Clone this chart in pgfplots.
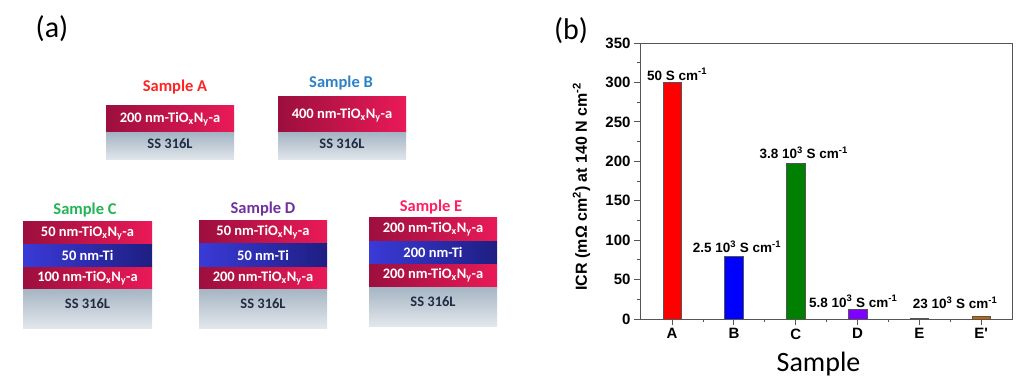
\documentclass[border=0pt]{standalone}
\usepackage{pgfplots}
\pgfplotsset{compat=1.18}
\usepackage{fontspec}
\setmainfont{Liberation Sans}
\newfontfamily\calfont{Carlito}
\definecolor{tL}{HTML}{9C0F3E}
\definecolor{tR}{HTML}{E91A57}
\definecolor{tiL}{HTML}{3A3AD8}
\definecolor{tiR}{HTML}{1E1E82}
\definecolor{ssT}{HTML}{A6B5C4}
\definecolor{ssB}{HTML}{E2E7EC}
\definecolor{ssText}{HTML}{1F2D44}
\definecolor{labA}{HTML}{FF2424}
\definecolor{labB}{HTML}{2C82C9}
\definecolor{labC}{HTML}{22B455}
\definecolor{labD}{HTML}{7030A0}
\definecolor{labE}{HTML}{FF2062}
\definecolor{axc}{HTML}{555555}
\definecolor{barE}{HTML}{8B1A3A}
\definecolor{barEp}{HTML}{C86400}
\newcommand{\tion}[1]{#1 nm-TiO\textsubscript{x}N\textsubscript{y}-a}
\newcommand{\lfont}{\calfont\bfseries\fontsize{14.5}{15}\selectfont}
\newcommand{\tlayer}[5]{\shade[left color=tL,right color=tR] (#1pt,-#3pt) rectangle (#2pt,-#4pt);
  \node[text=white,font=\lfont] at ({(#1+#2)/2*1pt},{-(#3+#4)/2*1pt}) {#5};}
\newcommand{\ilayer}[5]{\shade[left color=tiL,right color=tiR] (#1pt,-#3pt) rectangle (#2pt,-#4pt);
  \node[text=white,font=\lfont] at ({(#1+#2)/2*1pt},{-(#3+#4)/2*1pt}) {#5};}
\newcommand{\slayer}[4]{\shade[top color=ssT,bottom color=ssB] (#1pt,-#3pt) rectangle (#2pt,-#4pt);
  \node[text=ssText,font=\lfont] at ({(#1+#2)/2*1pt},{-(#3*0.62+#4*0.38)*1pt}) {SS 316L};}
\newcommand{\slabel}[4]{\node[text=#4,font=\calfont\bfseries\fontsize{16.5}{17}\selectfont] at (#1pt,-#2pt) {#3};}
\begin{document}
\begin{tikzpicture}
\useasboundingbox (0,0) rectangle (1024pt,-387pt);
% panel labels
\node[font=\calfont\fontsize{30}{30}\selectfont] at (52pt,-29pt) {(a)};
\node[font=\calfont\fontsize{30}{30}\selectfont] at (571pt,-31pt) {(b)};
% Sample A
\slabel{175}{87}{Sample A}{labA}
\tlayer{106}{234}{106}{133}{\tion{200}}
\slayer{106}{234}{133}{160}
% Sample B
\slabel{341}{83}{Sample B}{labB}
\tlayer{278}{406}{97}{133}{\tion{400}}
\slayer{278}{406}{133}{160}
% Sample C
\slabel{85}{210}{Sample C}{labC}
\tlayer{23}{152}{222}{244}{\tion{50}}
\ilayer{23}{152}{244}{267}{50 nm-Ti}
\tlayer{23}{152}{267}{289}{\tion{100}}
\slayer{23}{152}{289}{328}
% Sample D
\slabel{263}{209}{Sample D}{labD}
\tlayer{199}{327}{221}{243}{\tion{50}}
\ilayer{199}{327}{243}{267}{50 nm-Ti}
\tlayer{199}{327}{267}{289}{\tion{200}}
\slayer{199}{327}{289}{328}
% Sample E
\slabel{431}{207}{Sample E}{labE}
\tlayer{369}{497}{218}{241}{\tion{200}}
\ilayer{369}{497}{241}{264}{200 nm-Ti}
\tlayer{369}{497}{264}{287}{\tion{200}}
\slayer{369}{497}{287}{326}
% Panel b
\begin{axis}[
  at={(640pt,-319pt)}, anchor=south west,
  scale only axis, width=372pt, height=276pt,
  xmin=-0.52, xmax=5.5, ymin=0, ymax=350,
  xtick={0,1,2,3,4,5}, xticklabels={A,B,C,D,E,E\textquotesingle},
  minor xtick={0.5,1.5,2.5,3.5,4.5},
  ytick={0,50,100,150,200,250,300,350},
  minor ytick={25,75,125,175,225,275,325},
  tick pos=left, tick align=outside,
  major tick length=6pt, minor tick length=3pt,
  axis line style={axc, line width=1pt},
  every tick/.style={axc, line width=0.9pt},
  /pgf/number format/assume math mode=true,
  tick label style={font=\bfseries\fontsize{15}{15}\selectfont},
  xlabel={Sample},
  xlabel style={font=\calfont\fontsize{28}{28}\selectfont, at={(axis description cs:0.48,0)}, anchor=north, yshift=-30pt},
  ylabel={ICR (mΩ cm\textsuperscript{2}) at 140 N cm\textsuperscript{-2}},
  ylabel style={font=\bfseries\fontsize{16}{16}\selectfont, at={(axis description cs:-0.157,0.48)}, anchor=center},
  ybar, bar width=0.3, bar shift=0pt,
  clip=false,
]
\addplot[fill=red, draw=axc, bar shift=0pt] coordinates {(0,300)};
\addplot[fill=blue, draw=axc, bar shift=0pt] coordinates {(1,80)};
\addplot[fill={rgb,255:red,0;green,128;blue,0}, draw=axc, bar shift=0pt] coordinates {(2,197)};
\addplot[fill={rgb,255:red,128;green,0;blue,255}, draw=axc, bar shift=0pt] coordinates {(3,13)};
\addplot[fill=barE, draw=axc, bar shift=0pt] coordinates {(4,1)};
\addplot[fill=barEp, draw=axc, bar shift=0pt] coordinates {(5,3)};
\node[anchor=base, font=\bfseries\fontsize{13.5}{14}\selectfont] at (axis cs:0.08,303) {50 S cm\textsuperscript{-1}};
\node[anchor=base, font=\bfseries\fontsize{13.5}{14}\selectfont] at (axis cs:1.05,84) {2.5 10\textsuperscript{3} S cm\textsuperscript{-1}};
\node[anchor=base, font=\bfseries\fontsize{13.5}{14}\selectfont] at (axis cs:2.13,203) {3.8 10\textsuperscript{3} S cm\textsuperscript{-1}};
\node[anchor=base, font=\bfseries\fontsize{13.5}{14}\selectfont] at (axis cs:2.93,15) {5.8 10\textsuperscript{3} S cm\textsuperscript{-1}};
\node[anchor=base, font=\bfseries\fontsize{13.5}{14}\selectfont] at (axis cs:4.58,12.7) {23 10\textsuperscript{3} S cm\textsuperscript{-1}};
\end{axis}
\end{tikzpicture}
\end{document}
